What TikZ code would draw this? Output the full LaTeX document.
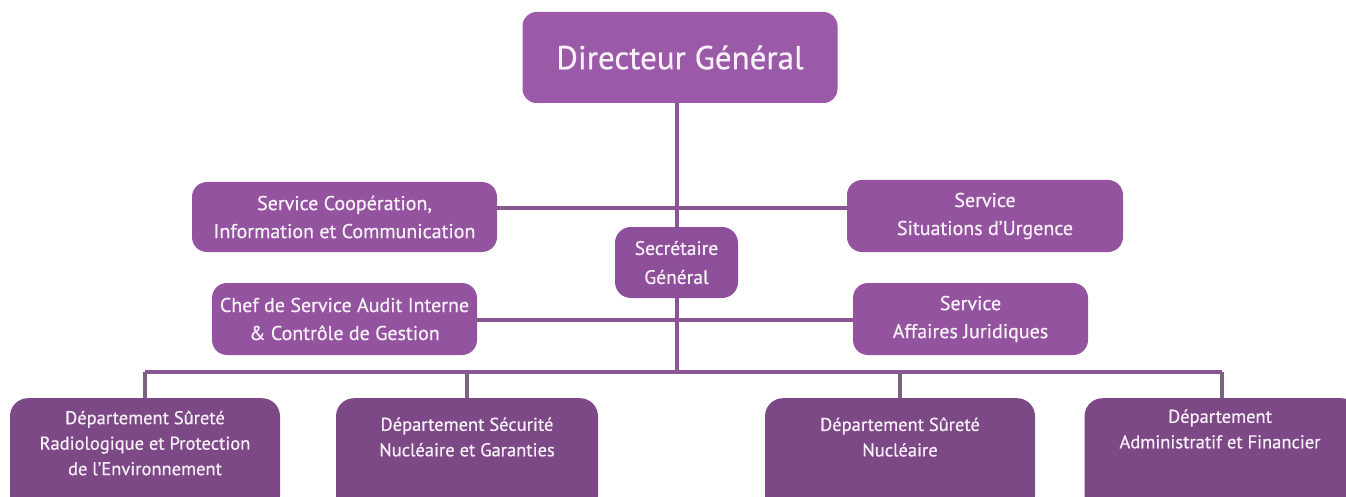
\documentclass[tikz,border=0pt]{standalone}
\usepackage{fontspec}
\setmainfont{PT Sans}[FakeBold=0.6]
\definecolor{dgfill}{HTML}{9B5AA8}
\definecolor{svfill}{HTML}{93539F}
\definecolor{sgfill}{HTML}{8E4F9A}
\definecolor{dpfill}{HTML}{7C4886}
\definecolor{linecol}{HTML}{8A5693}
\definecolor{dropcol}{HTML}{7A6381}
\definecolor{txtcol}{HTML}{F8F0F8}
\tikzset{
  box/.style={rectangle, rounded corners=15pt, inner sep=0pt, text=txtcol, align=center, font=\fontsize{20}{28}\selectfont},
  dgbox/.style={box, fill=dgfill, rounded corners=14pt, font=\fontsize{33}{40}\selectfont},
  svbox/.style={box, fill=svfill},
  sgbox/.style={box, fill=sgfill, rounded corners=16pt, font=\fontsize{19.5}{29}\selectfont},
  dpbox/.style={rectangle, rounded corners=18pt, fill=dpfill, inner sep=0pt},
  dptext/.style={text=txtcol, align=center, inner sep=0pt, font=\fontsize{18.5}{25.5}\selectfont},
  conn/.style={draw=linecol, line width=4.5pt},
  drop/.style={draw=dropcol, line width=3.5pt}
}
\begin{document}
\begin{tikzpicture}[x=1pt,y=-1pt]
\useasboundingbox (0,0) rectangle (1346,497);
\clip (0,0) rectangle (1346,497);
% spine junctions
\coordinate (j1) at (677,208);
\coordinate (j2) at (677,320);
\coordinate (j3) at (677,372);
% boxes (shapes)
\node[dgbox, minimum width=315pt, minimum height=91pt] (dg) at (680,57.5) {Directeur Général};
\node[svbox, minimum width=305pt, minimum height=70pt] (coop) at (344.5,217) {Service Coopération,\\Information et Communication};
\node[svbox, minimum width=276pt, minimum height=72pt] (situ) at (985,216) {Service\\Situations d’Urgence};
\node[svbox, minimum width=265pt, minimum height=72pt] (chef) at (344.5,319) {Chef de Service Audit Interne\\\& Contrôle de Gestion};
\node[svbox, minimum width=235pt, minimum height=72pt] (aff) at (970.5,319) {Service\\Affaires Juridiques};
\node[dpbox, minimum width=270pt, minimum height=115pt, anchor=north] (b1) at (145,398) {};
\node[dpbox, minimum width=262pt, minimum height=115pt, anchor=north] (b2) at (467,398) {};
\node[dpbox, minimum width=270pt, minimum height=115pt, anchor=north] (b3) at (900,398) {};
\node[dpbox, minimum width=275pt, minimum height=115pt, anchor=north] (b4) at (1222,398) {};
% connectors
\draw[conn] (dg.south -| j1) -- (j3);
\draw[conn] (coop.east |- j1) -- (situ.west |- j1);
\draw[conn] (chef.east |- j2) -- (aff.west |- j2);
\draw[conn] (b1.north |- j3) -- (b4.north |- j3);
\draw[drop] (b1.north |- j3) -- (b1.north);
\draw[drop] (b2.north |- j3) -- (b2.north);
\draw[drop] (b3.north |- j3) -- (b3.north);
\draw[drop] (b4.north |- j3) -- (b4.north);
\node[sgbox, minimum width=123pt, minimum height=71pt] (sg) at (676.5,262.5) {Secrétaire\\Général};
% department texts
\node[dptext] (t1) at (145,443) {Département Sûreté\\Radiologique et Protection\\de l’Environnement};
\node[dptext] (t2) at (467,437) {Département Sécurité\\Nucléaire et Garanties};
\node[dptext] (t3) at (900,437) {Département Sûreté\\Nucléaire};
\node[dptext] (t4) at (1220,429) {Département\\Administratif et Financier};
\end{tikzpicture}
\end{document}
